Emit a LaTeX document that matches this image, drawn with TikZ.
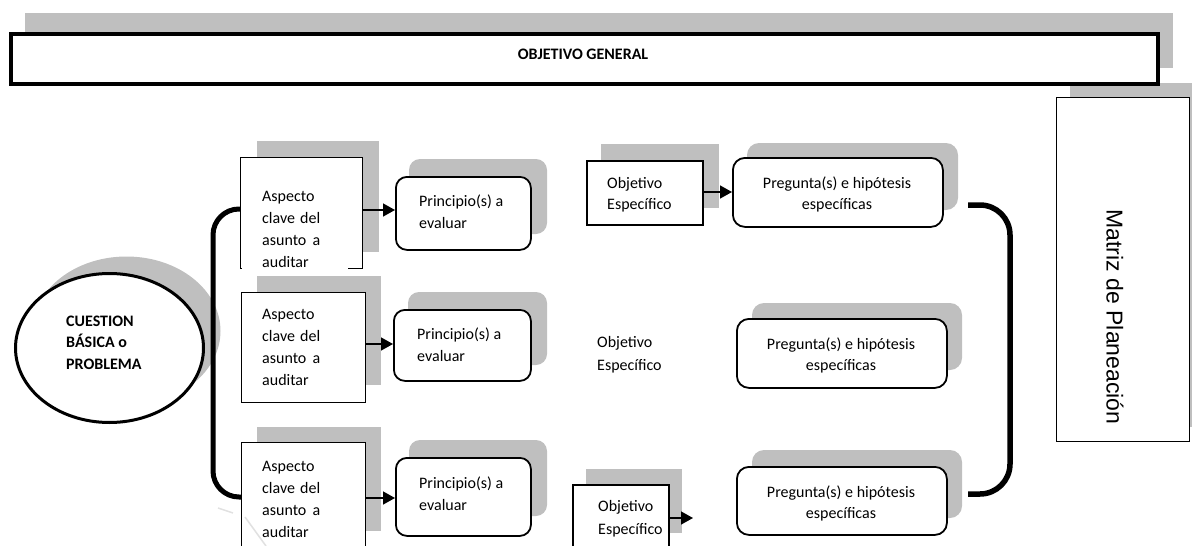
\documentclass[tikz,border=0pt]{standalone}
\usepackage{fontspec}
\setmainfont{Carlito}
\newfontfamily\arialfont{Liberation Sans}
\usetikzlibrary{arrows.meta,shapes.geometric}
\definecolor{shd}{RGB}{191,191,191}
\definecolor{faint}{RGB}{225,225,225}
\begin{document}
\begin{tikzpicture}[x=1pt,y=-1pt,
  sq/.style={draw,line width=1.4pt,fill=white,inner sep=0pt,anchor=north west},
  rd/.style={draw,line width=1.8pt,fill=white,rounded corners=11pt,inner sep=0pt,anchor=north west},
  arr/.style={line width=1.5pt,-{Triangle[length=12pt,width=13pt]}},
  bracket/.style={line width=5pt,rounded corners=26pt},
  txt/.style={font=\fontsize{16}{22}\selectfont,inner sep=0pt,align=left,anchor=base west},
  ctxt/.style={font=\fontsize{16}{21}\selectfont,inner sep=0pt,align=center,anchor=base}
]
\useasboundingbox (0,0) rectangle (1192,546);

% ---------- shadows ----------
\fill[shd] (25,13) rectangle (1173,68);
\fill[shd] (1070,83) rectangle (1200,427);
\fill[shd] (126.5,331) ellipse [x radius=94, y radius=74.5];
\fill[shd] (257,141) rectangle (379,252);
\fill[shd] (257,276) rectangle (381,385);
\fill[shd] (257,427) rectangle (381,531);
\fill[shd,rounded corners=11pt] (409,159) rectangle (547,234);
\fill[shd,rounded corners=11pt] (408,292) rectangle (547,365);
\fill[shd,rounded corners=11pt] (409,440) rectangle (547,516);
\fill[shd] (601,144) rectangle (719,208);
\fill[shd] (586,469) rectangle (682,533);
\fill[shd,rounded corners=12pt] (747,143) rectangle (958,210);
\fill[shd,rounded corners=12pt] (752,303) rectangle (962,370);
\fill[shd,rounded corners=12pt] (752,450) rectangle (962,518);

% ---------- top box ----------
\node[draw,line width=3.5pt,fill=white,inner sep=0pt,anchor=north west,
      minimum width=1147pt,minimum height=50pt] (og) at (9,32) {};
\node[font=\fontsize{16}{20}\selectfont\bfseries,inner sep=0pt] (ogt) at (583,54) {OBJETIVO GENERAL};

% ---------- Matriz ----------
\node[draw,line width=1.3pt,fill=white,inner sep=0pt,anchor=north west,
      minimum width=133pt,minimum height=344pt] (mp) at (1056,97) {};
\node[rotate=-90,font=\arialfont\fontsize{23}{28}\selectfont,inner sep=0pt] (mpt) at (1115,317) {Matriz de Planeación};

% ---------- ellipse ----------
\node[ellipse,draw,line width=3pt,fill=white,inner sep=0pt,
      minimum width=188pt,minimum height=149pt] (cb) at (109.5,348) {};
\node[txt,font=\fontsize{16}{21.5}\selectfont\bfseries] (cbt) at (66,369) {CUESTION\\BÁSICA o\\PROBLEMA};

% ---------- Aspecto boxes ----------
\node[sq,minimum width=122pt,minimum height=111pt] (a1) at (240,157) {};
\node[sq,minimum width=124pt,minimum height=110pt] (a2) at (241,292) {};
\node[sq,minimum width=124pt,minimum height=118pt] (a3) at (241,442) {};
\fill[white] (241.5,264) rectangle (348,272);
\draw[faint,line width=1.5pt] (218,508) -- (233,513);
\draw[faint,line width=1.5pt] (245,517) -- (266,546);
\node[txt] (a1t) at (262,267) {Aspecto\\\makebox[58pt][s]{clave del}\\\makebox[58pt][s]{asunto a}\\auditar};
\node[txt] (a2t) at (262,385) {Aspecto\\\makebox[58pt][s]{clave del}\\\makebox[58pt][s]{asunto a}\\auditar};
\node[txt] (a3t) at (262,537) {Aspecto\\\makebox[58pt][s]{clave del}\\\makebox[58pt][s]{asunto a}\\auditar};

% ---------- Principio boxes ----------
\node[rd,minimum width=135pt,minimum height=73pt] (p1) at (395,176) {};
\node[rd,minimum width=137pt,minimum height=71pt] (p2) at (393,309) {};
\node[rd,minimum width=135pt,minimum height=78pt] (p3) at (395,457) {};
\node[txt] (p1t) at (419,228) {Principio(s) a\\evaluar};
\node[txt] (p2t) at (417,361) {Principio(s) a\\evaluar};
\node[txt] (p3t) at (419,510) {Principio(s) a\\evaluar};

% ---------- Objetivo especifico ----------
\node[draw,line width=1.8pt,fill=white,inner sep=0pt,anchor=north west,
      minimum width=116pt,minimum height=64pt] (o1) at (586,160) {};
\node[draw,line width=1.8pt,fill=white,inner sep=0pt,anchor=north west,
      minimum width=96pt,minimum height=76pt] (o3) at (572,484) {};
\node[txt,font=\fontsize{16}{21}\selectfont] (o1t) at (607,209) {Objetivo\\Específico};
\node[txt,font=\fontsize{16}{23}\selectfont] (o2t) at (597,370) {Objetivo\\Específico};
\node[txt,font=\fontsize{16}{23}\selectfont] (o3t) at (598,534) {Objetivo\\Específico};

% ---------- Pregunta boxes ----------
\node[rd,rounded corners=12pt,minimum width=210pt,minimum height=69pt] (q1) at (732,157) {};
\node[rd,rounded corners=12pt,minimum width=210pt,minimum height=69pt] (q2) at (736,318) {};
\node[rd,rounded corners=12pt,minimum width=210pt,minimum height=68pt] (q3) at (736,466) {};
\node[ctxt] (q1t) at (837,209) {Pregunta(s) e hipótesis\\específicas};
\node[ctxt] (q2t) at (841,370) {Pregunta(s) e hipótesis\\específicas};
\node[ctxt] (q3t) at (841,518) {Pregunta(s) e hipótesis\\específicas};

% ---------- arrows ----------
\draw[arr] (a1.east |- 0,210) -- (p1.west |- 0,210);
\draw[arr] (a2.east |- 0,344) -- (p2.west |- 0,344);
\draw[arr] (a3.east |- 0,498) -- (p3.west |- 0,498);
\draw[arr] (o1.east |- 0,192) -- (q1.west |- 0,192);
\coordinate (o3end) at (693,518);
\draw[arr] (o3.east |- o3end) -- (o3end);

% ---------- brackets ----------
\coordinate (lb1) at (213,209);
\coordinate (lb2) at (213,497);
\draw[bracket] (a1.west |- lb1) -- (lb1) -- (lb2) -- (a3.west |- lb2);
\coordinate (rb0) at (968,205);
\coordinate (rb1) at (1010,205);
\coordinate (rb2) at (1010,494);
\coordinate (rb3) at (968,494);
\draw[bracket,line width=5.5pt,rounded corners=30pt] (rb0) -- (rb1) -- (rb2) -- (rb3);
\end{tikzpicture}
\end{document}
